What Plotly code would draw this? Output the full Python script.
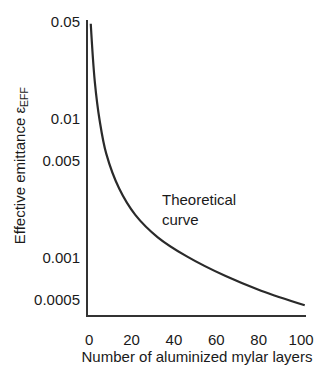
import plotly.graph_objects as go

layers = [0.8, 2.7, 5.0, 8.1, 14.2, 21.8, 32.4, 46.1, 64.4, 81.1, 101.7]
emittance = [0.0482, 0.0185, 0.0097, 0.0056, 0.00314, 0.00203, 0.0014, 0.00102, 0.000736, 0.000578, 0.000454]

x_ticks = [0, 20, 40, 60, 80, 100]
y_ticks = [0.0005, 0.001, 0.005, 0.01, 0.05]
y_labels = ["0.0005", "0.001", "0.005", "0.01", "0.05"]

FONT = "Liberation Sans, Arial, sans-serif"
TXT = "#1a1a1a"

fig = go.Figure()
fig.add_trace(go.Scatter(x=layers, y=emittance, mode="lines",
                         line=dict(color="#2a2a2a", width=2.2, shape="spline", smoothing=1.0),
                         hoverinfo="skip", showlegend=False))

fig.add_annotation(x=33.3, y=-2.657, xref="x", yref="y", text="Theoretical<br>curve",
                   showarrow=False, xanchor="left", yanchor="middle", align="left",
                   font=dict(family=FONT, size=15, color=TXT))

fig.add_annotation(x=(18 - 88) / 225, y=(323 - 170) / 303, xref="paper", yref="paper",
                   text="Effective emittance ε<sub>EFF</sub>", textangle=-90,
                   showarrow=False, xanchor="center", yanchor="middle",
                   font=dict(family=FONT, size=15, color=TXT))

fig.update_layout(
    width=324, height=371,
    margin=dict(l=88, r=11, t=20, b=48),
    paper_bgcolor="white", plot_bgcolor="white",
    font=dict(family=FONT, size=15, color=TXT),
    showlegend=False,
    xaxis=dict(range=[-0.5, 102.3], tickvals=x_ticks, showgrid=False, zeroline=False,
               showline=True, linecolor="#333333", linewidth=2,
               ticks="outside", ticklen=10, tickcolor="rgba(0,0,0,0)",
               title=dict(text="Number of aluminized mylar layers", standoff=1,
                          font=dict(family=FONT, size=15, color=TXT))),
    yaxis=dict(type="log", range=[-3.413, -1.29], tickvals=y_ticks, ticktext=y_labels,
               showgrid=False, zeroline=False,
               showline=True, linecolor="#333333", linewidth=2,
               ticks="outside", ticklen=3, tickcolor="rgba(0,0,0,0)"),
)

fig.write_html("out.html")
